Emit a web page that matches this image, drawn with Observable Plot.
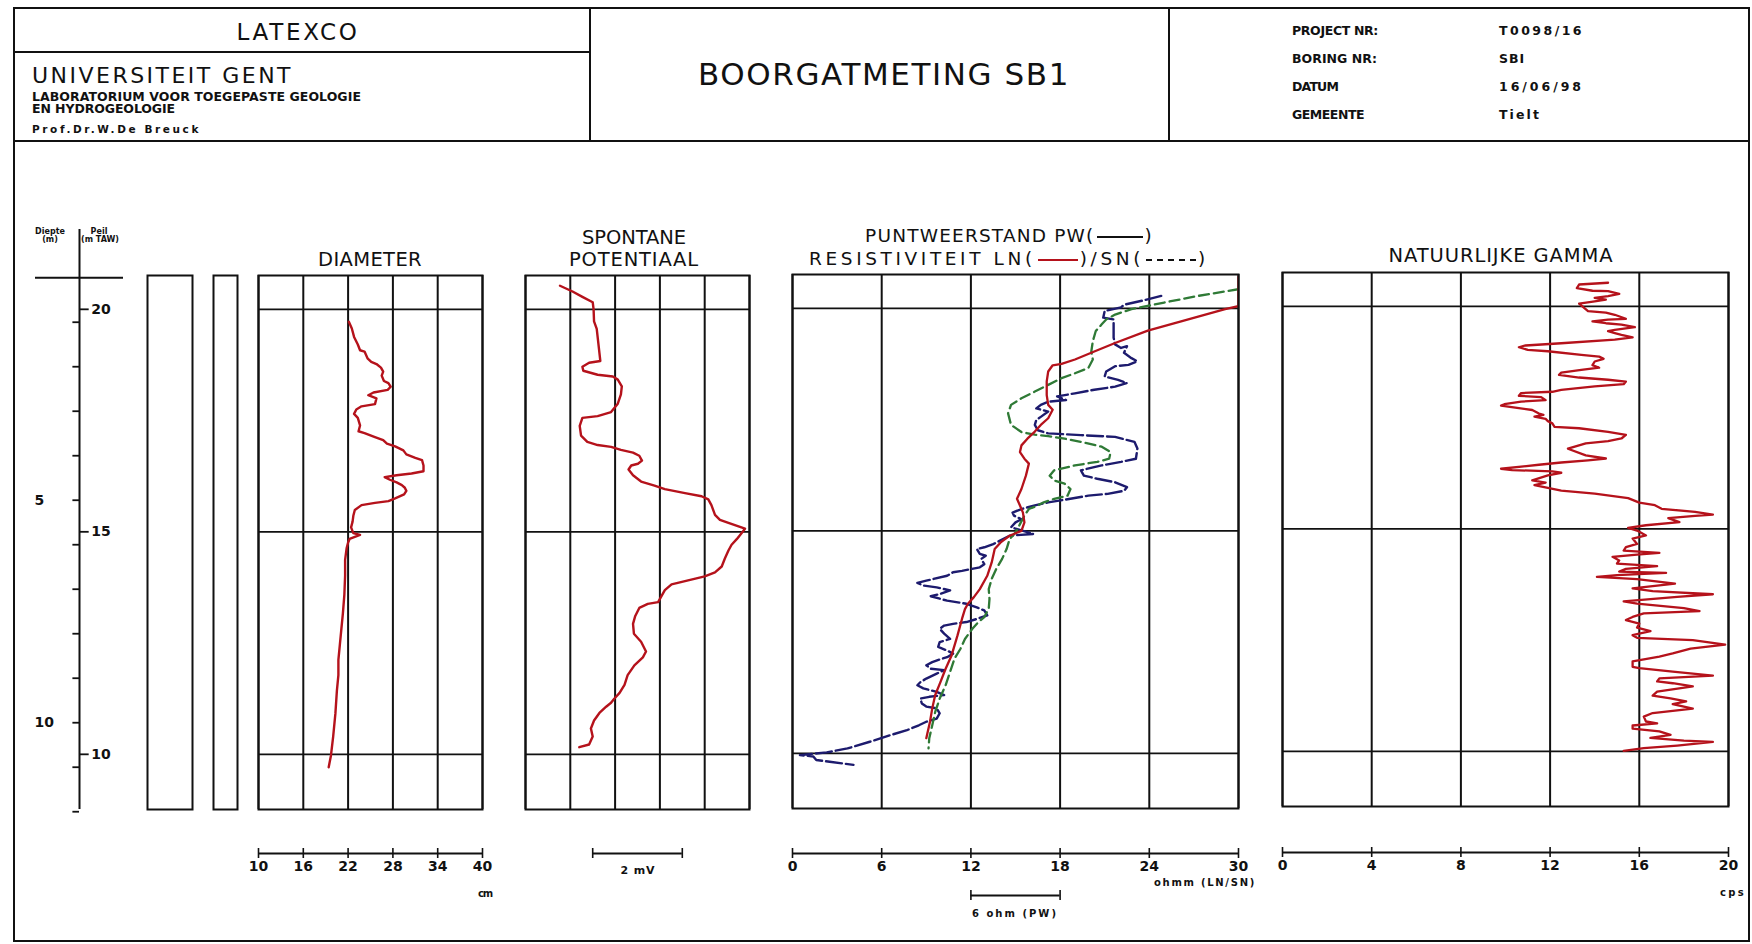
<!DOCTYPE html>
<html>
<head>
<meta charset="utf-8">
<script src="https://cdn.jsdelivr.net/npm/d3@7"></script>
<script src="https://cdn.jsdelivr.net/npm/@observablehq/plot@0.6"></script>
<style>
html, body { margin: 0; padding: 0; background: #fff; }
#page { position: relative; width: 1752px; height: 944px; overflow: hidden; background: #fff; color: #111; font-family: "DejaVu Sans", sans-serif; }
.lbl { position: absolute; left: 0; top: 0; white-space: nowrap; line-height: 1; }
.ln { position: absolute; background: #111; }
.lg { display: inline-block; vertical-align: middle; height: 0; margin: 0 2px; }
</style>
</head>
<body>
<div id="page"></div>
<script>
// ---------------- DATA ----------------
// depth below surface (m), value
const diameter = [[0.99,22.1],[1.14,22.5],[1.33,22.8],[1.50,23.3],[1.63,23.6],[1.66,24.2],[1.81,24.6],[1.89,25.1],[1.94,25.8],[2.02,26.4],[2.11,26.7],[2.20,26.5],[2.32,26.8],[2.37,27.4],[2.45,27.7],[2.52,27.3],[2.58,25.4],[2.64,24.7],[2.71,25.8],[2.84,25.6],[2.89,23.8],[2.96,23.1],[3.06,22.8],[3.15,23.3],[3.32,23.6],[3.45,23.4],[3.49,24.2],[3.58,25.6],[3.65,26.7],[3.73,27.2],[3.79,28.3],[3.88,29.4],[3.97,29.8],[4.05,31.0],[4.10,31.9],[4.22,32.1],[4.35,32.1],[4.40,30.5],[4.44,28.5],[4.48,26.9],[4.54,27.6],[4.60,28.5],[4.66,29.2],[4.72,29.6],[4.79,29.8],[4.87,29.5],[4.96,28.3],[5.02,27.4],[5.06,25.6],[5.11,23.8],[5.22,22.9],[5.35,22.7],[5.48,22.6],[5.61,22.4],[5.74,22.7],[5.78,23.6],[5.87,22.2],[5.95,22.0],[6.08,21.8],[6.34,21.6],[6.69,21.6],[7.12,21.5],[7.55,21.3],[7.89,21.1],[8.24,20.9],[8.59,20.7],[8.93,20.7],[9.28,20.5],[9.79,20.3],[10.31,20.0],[10.74,19.7],[11.0,19.4]];

const spontaneous = [[0.18,0.77],[0.31,1.05],[0.43,1.27],[0.55,1.50],[0.71,1.52],[0.98,1.53],[1.15,1.59],[1.42,1.62],[1.69,1.65],[1.87,1.67],[1.91,1.42],[2.00,1.27],[2.09,1.29],[2.18,1.61],[2.22,1.95],[2.29,2.06],[2.44,2.15],[2.62,2.13],[2.83,2.06],[3.02,1.91],[3.11,1.61],[3.15,1.27],[3.33,1.21],[3.55,1.24],[3.69,1.38],[3.76,1.61],[3.80,1.91],[3.87,2.13],[3.93,2.40],[4.00,2.54],[4.11,2.60],[4.18,2.51],[4.22,2.36],[4.31,2.30],[4.44,2.40],[4.58,2.58],[4.67,2.88],[4.75,3.11],[4.84,3.56],[4.91,3.93],[4.98,4.08],[5.11,4.15],[5.33,4.23],[5.44,4.34],[5.51,4.53],[5.64,4.90],[5.73,4.83],[5.87,4.72],[6.00,4.60],[6.13,4.53],[6.31,4.45],[6.49,4.38],[6.62,4.23],[6.71,4.00],[6.80,3.63],[6.89,3.26],[7.02,3.11],[7.29,2.96],[7.33,2.73],[7.42,2.54],[7.60,2.45],[7.78,2.40],[8.00,2.42],[8.18,2.58],[8.40,2.69],[8.53,2.62],[8.71,2.43],[8.93,2.28],[9.15,2.21],[9.33,2.10],[9.46,1.98],[9.55,1.91],[9.64,1.80],[9.78,1.65],[9.95,1.53],[10.13,1.46],[10.31,1.50],[10.49,1.42],[10.55,1.20]];

const resLN = [[0.0,30],[0.66,30],[0.73,29.1],[1.0,26.2],[1.21,23.9],[1.49,21.7],[1.68,20.3],[1.86,19.0],[1.96,18.1],[1.99,17.5],[2.13,17.2],[2.35,17.1],[2.66,17.1],[2.88,17.2],[2.99,17.5],[3.18,17.2],[3.33,16.7],[3.48,16.3],[3.64,15.8],[3.79,15.4],[3.94,15.3],[4.09,15.6],[4.2,15.9],[4.47,15.7],[4.77,15.4],[4.99,15.1],[5.14,15.3],[5.30,15.5],[5.52,15.6],[5.71,15.4],[5.82,14.6],[5.97,14.0],[6.12,13.6],[6.42,13.4],[6.72,13.1],[7.02,12.6],[7.20,12.2],[7.35,11.8],[7.47,11.6],[7.69,11.4],[8.06,11.1],[8.51,10.7],[8.81,10.3],[9.11,9.95],[9.40,9.6],[9.70,9.4],[10.0,9.25],[10.22,9.1],[10.37,9.0]];

const resSN = [[0.28,30],[0.43,27.3],[0.58,25.0],[0.73,22.8],[0.85,21.7],[0.96,21.1],[1.07,20.8],[1.22,20.4],[1.45,20.2],[1.68,20.1],[1.86,20.2],[2.05,19.9],[2.17,19.0],[2.28,18.1],[2.43,17.2],[2.58,16.3],[2.73,15.4],[2.88,14.7],[3.07,14.5],[3.33,14.7],[3.49,15.4],[3.55,16.3],[3.58,17.2],[3.64,18.3],[3.71,19.4],[3.82,20.8],[3.94,21.4],[4.09,21.3],[4.16,20.5],[4.24,19.0],[4.35,17.6],[4.47,17.3],[4.58,17.6],[4.65,18.3],[4.77,18.7],[4.92,18.5],[4.99,17.6],[5.07,16.9],[5.14,16.5],[5.22,15.9],[5.37,15.6],[5.56,15.3],[5.75,15.0],[5.90,14.6],[6.12,14.4],[6.34,14.1],[6.57,13.7],[6.79,13.4],[7.02,13.2],[7.24,13.25],[7.46,13.2],[7.65,12.9],[7.76,12.5],[7.91,12.1],[8.14,11.6],[8.36,11.3],[8.58,10.9],[8.88,10.6],[9.18,10.3],[9.48,9.9],[9.78,9.6],[10.08,9.4],[10.37,9.2],[10.6,9.15]];

const resPW = [[0.43,24.8],[0.54,23.5],[0.63,22.3],[0.69,22.1],[0.77,21.0],[0.92,20.9],[0.96,21.6],[1.11,21.6],[1.37,21.6],[1.52,21.7],[1.60,22.1],[1.56,22.5],[1.71,22.3],[1.83,22.8],[1.90,23.2],[1.98,22.6],[2.01,21.7],[2.13,21.1],[2.24,21.0],[2.32,21.9],[2.39,22.5],[2.47,21.7],[2.54,20.3],[2.62,19.0],[2.69,17.8],[2.77,18.4],[2.81,17.2],[2.88,16.7],[2.96,16.4],[3.03,17.2],[3.15,16.7],[3.22,16.4],[3.33,16.3],[3.45,16.5],[3.52,17.2],[3.56,19.4],[3.6,21.7],[3.71,23.0],[3.86,23.2],[4.09,23.1],[4.16,22.1],[4.24,20.8],[4.35,19.4],[4.47,19.6],[4.54,20.5],[4.62,21.7],[4.73,22.5],[4.81,22.3],[4.88,21.2],[4.92,19.9],[5.0,18.5],[5.07,17.2],[5.14,16.3],[5.22,15.4],[5.30,14.8],[5.37,14.9],[5.45,15.4],[5.52,15.0],[5.63,14.7],[5.78,16.2],[5.82,14.6],[6.01,13.5],[6.08,12.9],[6.12,12.4],[6.23,12.6],[6.27,13.0],[6.34,12.7],[6.46,12.9],[6.53,12.6],[6.61,11.4],[6.64,10.8],[6.72,10.4],[6.83,9.0],[6.88,8.4],[6.94,8.8],[6.98,9.7],[7.05,10.6],[7.13,9.9],[7.18,9.3],[7.28,10.4],[7.35,11.7],[7.43,12.4],[7.50,12.9],[7.61,13.1],[7.69,12.4],[7.76,11.7],[7.80,10.8],[7.84,10.2],[7.91,9.9],[8.02,10.2],[8.14,10.6],[8.21,9.9],[8.32,9.8],[8.40,10.4],[8.47,10.8],[8.55,10.4],[8.60,9.9],[8.66,9.4],[8.73,9.0],[8.81,9.3],[8.84,10.2],[8.92,9.7],[9.03,9.0],[9.11,8.6],[9.18,8.4],[9.25,8.8],[9.33,9.7],[9.40,10.2],[9.44,9.2],[9.48,8.6],[9.59,8.7],[9.66,9.0],[9.70,9.7],[9.81,9.9],[9.93,9.7],[10.0,9.0],[10.08,8.5],[10.19,7.7],[10.30,6.6],[10.45,5.2],[10.60,3.7],[10.69,2.3],[10.75,0.5],[10.78,1.4],[10.86,1.6],[10.90,2.5],[10.97,4.1]];

const gamma = [[0.18,14.6],[0.22,13.3],[0.30,13.2],[0.36,13.9],[0.37,14.6],[0.43,15.1],[0.48,14.6],[0.52,14.0],[0.56,14.5],[0.60,14.0],[0.65,13.3],[0.82,13.7],[0.85,14.5],[0.90,14.9],[0.99,15.4],[1.01,14.6],[1.05,13.9],[1.09,14.5],[1.12,15.2],[1.18,15.8],[1.24,14.9],[1.27,14.6],[1.31,14.9],[1.35,15.2],[1.41,15.7],[1.46,14.9],[1.54,12.5],[1.59,10.9],[1.63,10.6],[1.69,11.0],[1.72,11.9],[1.80,13.4],[1.84,14.2],[1.89,14.4],[1.95,14.0],[2.03,13.9],[2.09,14.2],[2.14,13.4],[2.20,12.5],[2.25,12.4],[2.31,13.3],[2.36,14.6],[2.40,15.4],[2.46,15.3],[2.51,14.0],[2.59,12.5],[2.63,12.1],[2.66,10.7],[2.72,10.6],[2.75,11.6],[2.82,11.8],[2.85,10.7],[2.91,9.95],[2.94,9.8],[3.00,10.6],[3.04,11.2],[3.12,11.5],[3.15,11.7],[3.19,11.3],[3.24,11.8],[3.29,11.9],[3.34,12.1],[3.42,12.2],[3.45,13.3],[3.53,14.6],[3.60,15.4],[3.68,15.2],[3.74,14.6],[3.79,13.6],[3.91,12.8],[4.06,13.6],[4.13,14.5],[4.17,13.7],[4.22,12.5],[4.27,11.5],[4.36,9.8],[4.39,10.3],[4.42,12.1],[4.45,12.5],[4.51,11.9],[4.62,11.2],[4.67,11.8],[4.73,11.3],[4.79,11.9],[4.85,12.5],[4.92,14.0],[5.02,15.5],[5.12,16.0],[5.18,16.7],[5.26,17.0],[5.33,18.5],[5.39,19.3],[5.42,18.5],[5.47,17.3],[5.56,17.8],[5.63,16.3],[5.69,15.5],[5.75,15.9],[5.86,16.3],[5.93,15.7],[6.05,15.9],[6.12,15.4],[6.20,15.3],[6.25,16.9],[6.29,15.9],[6.34,14.8],[6.42,15.1],[6.49,15.0],[6.55,16.8],[6.61,15.4],[6.67,15.1],[6.70,17.2],[6.75,15.0],[6.79,14.1],[6.84,15.9],[6.94,17.6],[7.05,15.7],[7.11,16.6],[7.18,19.3],[7.24,17.7],[7.34,15.3],[7.39,15.9],[7.49,18.0],[7.56,18.7],[7.61,16.2],[7.69,15.7],[7.76,15.4],[7.84,16.0],[7.93,15.9],[8.01,16.5],[8.10,15.7],[8.16,15.9],[8.21,18.4],[8.31,19.85],[8.40,18.3],[8.51,17.5],[8.58,16.9],[8.69,15.7],[8.81,15.7],[8.84,16.0],[8.92,17.5],[9.01,19.3],[9.07,16.9],[9.14,16.8],[9.18,17.5],[9.25,18.4],[9.37,16.8],[9.46,16.6],[9.52,17.4],[9.59,18.1],[9.65,17.5],[9.75,18.4],[9.85,16.6],[9.93,16.2],[10.04,16.3],[10.08,16.8],[10.13,15.7],[10.20,15.7],[10.26,16.9],[10.34,17.4],[10.41,16.5],[10.47,18.0],[10.50,19.3],[10.58,17.7],[10.64,16.2],[10.70,15.3]];

// scales / ticks
const diamTicks = [10, 16, 22, 28, 34, 40];       // cm
const spGrid = [0, 1, 2, 3, 4, 5];                // mV
const spBar = [1.5, 3.5];                         // 2 mV bar
const resTicks = [0, 6, 12, 18, 24, 30];          // ohmm
const pwBar = [12, 18];                           // 6 ohm (PW)
const gammaTicks = [0, 4, 8, 12, 16, 20];         // cps
const peilTicks = [20, 15, 10];                   // m TAW
const depthTicks = [1, 2, 3, 4, 5, 6, 7, 8, 9, 10, 11, 12];
const depthLabels = [5, 10];
const surfacePeil = 20.71;                        // m TAW at depth 0

// ---------------- LAYOUT / STYLE ----------------
const page = document.getElementById("page");
const FONT = "'DejaVu Sans', sans-serif";
const ink = "#111";
const red = "#b5121b";
const navy = "#1d1b6e";
const green = "#2f7a36";
const yTop = -0.05, yBottom = 11.95;
const trackH = 534;
const pxPerM = trackH / (yBottom - yTop);
const plotStyle = {background: "transparent", overflow: "visible", maxWidth: "none", fontFamily: FONT, color: ink};

function place(node, left, top) {
  const d = document.createElement("div");
  d.style.cssText = `position:absolute;left:${left}px;top:${top}px;`;
  d.appendChild(node);
  page.appendChild(d);
}
function hline(x1, x2, y, w = 2) { const e = document.createElement("div"); e.className = "ln"; e.style.cssText = `left:${x1}px;top:${y - w/2}px;width:${x2 - x1}px;height:${w}px;`; page.appendChild(e); }
function vline(x, y1, y2, w = 2) { const e = document.createElement("div"); e.className = "ln"; e.style.cssText = `left:${x - w/2}px;top:${y1}px;width:${w}px;height:${y2 - y1}px;`; page.appendChild(e); }

function label(text, x, y, {size = 12, weight = "normal", anchor = "middle", width = null, html = false} = {}) {
  const el = document.createElement("div");
  el.className = "lbl";
  el.style.fontSize = size + "px";
  el.style.fontWeight = weight;
  el.style.fontFamily = FONT;
  if (html) el.innerHTML = text; else el.textContent = text;
  page.appendChild(el);
  if (width) {
    const w = el.getBoundingClientRect().width;
    const n = el.textContent.length + el.querySelectorAll("span").length;
    el.style.letterSpacing = ((width - w) / n) + "px";
  }
  const r = el.getBoundingClientRect();
  const left = anchor === "middle" ? x - r.width / 2 : anchor === "end" ? x - r.width : x;
  el.style.left = left + "px";
  el.style.top = (y - r.height / 2) + "px";
  return el;
}

function track(left, top, width, xDomain, grid, marks, hLines = true) {
  const m = 3;
  const svg = Plot.plot({
    width: width + 2 * m, height: trackH + 2 * m, margin: m,
    x: {domain: xDomain, axis: null},
    y: {domain: [yTop, yBottom], reverse: true, axis: null},
    style: plotStyle,
    marks: [
      grid ? Plot.ruleX(grid, {stroke: ink, strokeWidth: 2}) : null,
      hLines ? Plot.ruleY(peilTicks, {y: p => surfacePeil - p, stroke: ink, strokeWidth: 1.7}) : null,
      ...marks,
      Plot.frame({stroke: ink, strokeWidth: 2})
    ]
  });
  place(svg, left - m, top - m);
}

function scaleBar(left, width, top, xDomain, range, ticks, withLabels) {
  const mx = 24, h = 10;
  const svg = Plot.plot({
    width: width + 2 * mx, height: h + 30, marginLeft: mx, marginRight: mx, marginTop: 0, marginBottom: 30,
    x: {domain: xDomain, axis: null},
    y: {domain: [-1, 1], axis: null},
    style: plotStyle,
    marks: [
      Plot.ruleY([0], {x1: range[0], x2: range[1], stroke: ink, strokeWidth: 2}),
      Plot.ruleX(ticks, {stroke: ink, strokeWidth: 1.6}),
      withLabels ? Plot.text(ticks, {x: d => d, frameAnchor: "bottom", dy: 12, text: d => String(d), fontSize: 14, fontWeight: "bold", fill: ink}) : null
    ]
  });
  place(svg, left - mx, top - h / 2);
}

// ---------------- HEADER ----------------
hline(13, 1750, 8); hline(13, 1750, 941); vline(14, 7, 942); vline(1749, 7, 942);
hline(13, 1750, 141);
vline(590, 7, 141); vline(1169, 7, 141);
hline(13, 590, 52);

label("LATEXCO", 298, 32, {size: 23, width: 123});
label("UNIVERSITEIT GENT", 32, 76, {size: 22, anchor: "start", width: 261});
label("LABORATORIUM VOOR TOEGEPASTE GEOLOGIE", 32, 97, {size: 12.5, weight: "bold", anchor: "start", width: 329});
label("EN HYDROGEOLOGIE", 32, 109, {size: 12.5, weight: "bold", anchor: "start", width: 143});
label("Prof.Dr.W.De Breuck", 32, 129, {size: 10.5, weight: "bold", anchor: "start", width: 169});
label("BOORGATMETING SB1", 884, 74, {size: 31, width: 372});

const infoKeys = ["PROJECT NR:", "BORING NR:", "DATUM", "GEMEENTE"];
const infoVals = ["T0098/16", "SBI", "16/06/98", "Tielt"];
const infoKeyW = [86, 85, 46, 72], infoValW = [85, 26, 85, 42];
infoKeys.forEach((k, i) => {
  label(k, 1292, 31 + i * 28, {size: 12.5, weight: "bold", anchor: "start", width: infoKeyW[i]});
  label(infoVals[i], 1499, 31 + i * 28, {size: 12.5, weight: "bold", anchor: "start", width: infoValW[i]});
});

// ---------------- DEPTH AXIS ----------------
const axisTopPx = 229, trackTop = 275;
const axisTopDepth = yTop - (trackTop - axisTopPx) / pxPerM;
{
  const m = 3;
  const svg = Plot.plot({
    width: 88 + 2 * m, height: (trackTop + trackH - axisTopPx) + 2 * m, margin: m,
    x: {domain: [-1, 1], axis: null},
    y: {domain: [axisTopDepth, yBottom], reverse: true, axis: null},
    style: plotStyle,
    marks: [
      Plot.ruleX([0], {stroke: ink, strokeWidth: 2}),
      Plot.ruleY([0], {stroke: ink, strokeWidth: 2}),
      Plot.ruleY(depthTicks, {x1: -0.15, x2: 0, stroke: ink, strokeWidth: 1.8}),
      Plot.ruleY(peilTicks, {y: p => surfacePeil - p, x1: 0, x2: 0.22, stroke: ink, strokeWidth: 1.8}),
      Plot.text(depthLabels, {x: -1, y: d => d, dx: -1, text: d => String(d), textAnchor: "start", fontSize: 14, fontWeight: "bold", fill: ink}),
      Plot.text(peilTicks, {x: 0.22, y: p => surfacePeil - p, text: p => String(p), textAnchor: "start", dx: 2, fontSize: 14, fontWeight: "bold", fill: ink})
    ]
  });
  place(svg, 35 - m, axisTopPx - m);
}
label("Diepte", 50, 232, {size: 8, weight: "bold"});
label("(m)", 50, 240, {size: 8, weight: "bold"});
label("Peil", 99, 232, {size: 8, weight: "bold"});
label("(m TAW)", 100, 240, {size: 8, weight: "bold"});

// ---------------- TRACKS ----------------
track(147, 275, 45, [0, 1], null, [], false);
track(213, 275, 24, [0, 1], null, [], false);

track(258, 275, 224, [10, 40], diamTicks, [
  Plot.line(diameter, {x: d => d[1], y: d => d[0], stroke: red, strokeWidth: 2.4, clip: true})
]);
track(525, 275, 224, [0, 5], spGrid, [
  Plot.line(spontaneous, {x: d => d[1], y: d => d[0], stroke: red, strokeWidth: 2.4, clip: true})
]);
track(792, 274, 446, [0, 30], resTicks, [
  Plot.line(resPW, {x: d => d[1], y: d => d[0], stroke: navy, strokeWidth: 2.4, strokeDasharray: "16,4", clip: true}),
  Plot.line(resSN, {x: d => d[1], y: d => d[0], stroke: green, strokeWidth: 2.3, strokeDasharray: "10,5", clip: true}),
  Plot.line(resLN, {x: d => d[1], y: d => d[0], stroke: red, strokeWidth: 2.3, clip: true})
]);
track(1282, 272, 446, [0, 20], gammaTicks, [
  Plot.line(gamma, {x: d => d[1], y: d => d[0], stroke: red, strokeWidth: 2.3, clip: true})
]);

// ---------------- TITLES ----------------
label("DIAMETER", 370, 260, {size: 19.5, width: 104});
label("SPONTANE", 634, 238, {size: 19.5, width: 104});
label("POTENTIAAL", 634, 260, {size: 19.5, width: 130});
label(`PUNTWEERSTAND PW(<span class="lg" style="width:46px;border-top:2.5px solid ${ink}"></span>)`, 1009, 236, {size: 18.5, width: 289, html: true});
label(`RESISTIVITEIT LN(<span class="lg" style="width:40px;border-top:2.5px solid ${red}"></span>)/SN(<span class="lg" style="width:50px;border-top:2.5px dashed ${ink}"></span>)`, 1009, 259, {size: 18.5, width: 407, html: true});
label("NATUURLIJKE GAMMA", 1501, 256, {size: 19.5, width: 225});

// ---------------- SCALE BARS ----------------
scaleBar(258, 224, 853, [10, 40], [10, 40], diamTicks, true);
label("cm", 485, 894, {size: 10, weight: "bold", width: 14});
scaleBar(525, 224, 853, [0, 5], spBar, spBar, false);
label("2 mV", 638, 870, {size: 11, weight: "bold", width: 35});
scaleBar(792, 446, 853, [0, 30], [0, 30], resTicks, true);
label("ohmm (LN/SN)", 1256, 883, {size: 10, weight: "bold", anchor: "end", width: 102});
scaleBar(792, 446, 895, [0, 30], pwBar, pwBar, false);
label("6 ohm (PW)", 1015, 914, {size: 10, weight: "bold", width: 86});
scaleBar(1282, 446, 852, [0, 20], [0, 20], gammaTicks, true);
label("cps", 1746, 893, {size: 10, weight: "bold", anchor: "end", width: 26});
</script>
</body>
</html>
